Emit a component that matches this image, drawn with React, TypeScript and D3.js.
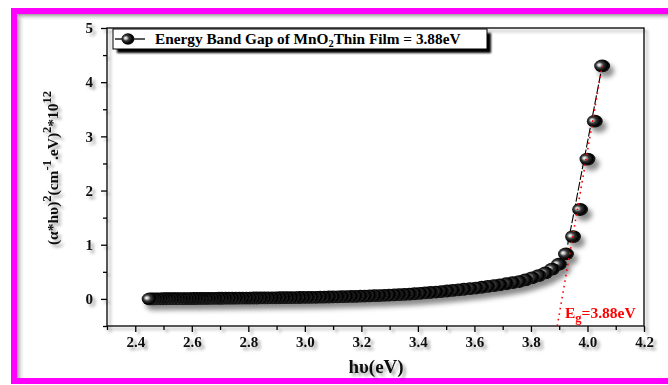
import React, { useEffect, useRef } from 'react';
import * as d3 from 'd3';

// photon energy hv (eV), one point every 2 nm
const photonEnergy = [
  2.451, 2.460, 2.470, 2.480, 2.490, 2.500, 2.510, 2.520, 2.531, 2.541,
  2.551, 2.562, 2.573, 2.583, 2.594, 2.605, 2.616, 2.627, 2.638, 2.650,
  2.661, 2.672, 2.684, 2.696, 2.707, 2.719, 2.731, 2.743, 2.756, 2.768,
  2.780, 2.793, 2.805, 2.818, 2.831, 2.844, 2.857, 2.870, 2.884, 2.897,
  2.911, 2.925, 2.938, 2.952, 2.967, 2.981, 2.995, 3.010, 3.024, 3.039,
  3.054, 3.069, 3.085, 3.100, 3.116, 3.131, 3.147, 3.163, 3.179, 3.196,
  3.212, 3.229, 3.246, 3.263, 3.280, 3.298, 3.316, 3.333, 3.351, 3.370,
  3.388, 3.407, 3.425, 3.444, 3.464, 3.483, 3.503, 3.523, 3.543, 3.563,
  3.584, 3.605, 3.626, 3.647, 3.669, 3.690, 3.713, 3.735, 3.758, 3.780,
  3.804, 3.827, 3.851, 3.875, 3.899, 3.924, 3.949, 3.974, 4.000, 4.026,
  4.052,
];

// (alpha*hv)^2 * 1e-12
const absorption = [
  0.000, 0.001, 0.001, 0.002, 0.002, 0.003, 0.003, 0.004, 0.004, 0.005,
  0.005, 0.006, 0.006, 0.007, 0.007, 0.008, 0.008, 0.009, 0.009, 0.010,
  0.010, 0.011, 0.011, 0.012, 0.012, 0.013, 0.013, 0.014, 0.014, 0.015,
  0.015, 0.016, 0.016, 0.017, 0.017, 0.018, 0.018, 0.019, 0.020, 0.020,
  0.021, 0.022, 0.023, 0.024, 0.025, 0.026, 0.027, 0.028, 0.029, 0.030,
  0.032, 0.033, 0.035, 0.037, 0.039, 0.041, 0.043, 0.045, 0.047, 0.050,
  0.053, 0.056, 0.059, 0.062, 0.066, 0.070, 0.074, 0.078, 0.082, 0.088,
  0.095, 0.102, 0.110, 0.118, 0.127, 0.136, 0.146, 0.156, 0.167, 0.178,
  0.190, 0.200, 0.215, 0.230, 0.245, 0.260, 0.280, 0.300, 0.320, 0.350,
  0.390, 0.430, 0.480, 0.550, 0.640, 0.830, 1.150, 1.650, 2.580, 3.280,
  4.300,
];

const xMajor = [2.4, 2.6, 2.8, 3.0, 3.2, 3.4, 3.6, 3.8, 4.0, 4.2];
const xMinor = [2.3, 2.5, 2.7, 2.9, 3.1, 3.3, 3.5, 3.7, 3.9, 4.1];
const yMajor = [0, 1, 2, 3, 4, 5];
const yMinor = [-0.5, 0.5, 1.5, 2.5, 3.5, 4.5];

// linear extrapolation of the steep part down to the axis
const tangentLine = [[3.893, -0.5], [4.052, 4.3]];
const tangentSolid = [[3.93, 1.0], [4.052, 4.3]];

const bandGap = '3.88';
const legendLabel = ['Energy Band Gap of MnO', '2', 'Thin Film = 3.88eV'];

const FONT = '"Liberation Serif", "Times New Roman", serif';

export default function App() {
  const ref = useRef<SVGSVGElement>(null);

  useEffect(() => {
    const svg = d3.select(ref.current);
    svg.selectAll('*').remove();

    const x = d3.scaleLinear().domain([2.3, 4.2]).range([107, 644]);
    const y = d3.scaleLinear().domain([-0.5, 5]).range([326, 28]);

    const defs = svg.append('defs');

    const ball = defs.append('radialGradient')
      .attr('id', 'ball')
      .attr('cx', 0.42).attr('cy', 0.45).attr('r', 0.62)
      .attr('fx', 0.3).attr('fy', 0.42);
    ball.append('stop').attr('offset', 0).attr('stop-color', '#ffffff');
    ball.append('stop').attr('offset', 0.14).attr('stop-color', '#d0d0d0');
    ball.append('stop').attr('offset', 0.38).attr('stop-color', '#3a3a3a');
    ball.append('stop').attr('offset', 0.72).attr('stop-color', '#000000');
    ball.append('stop').attr('offset', 0.92).attr('stop-color', '#1a1a1a');
    ball.append('stop').attr('offset', 1).attr('stop-color', '#555555');

    defs.append('filter').attr('id', 'soft')
      .attr('x', '-10%').attr('y', '-10%').attr('width', '130%').attr('height', '130%')
      .append('feDropShadow')
      .attr('dx', 3).attr('dy', 3).attr('stdDeviation', 1.8)
      .attr('flood-color', '#000').attr('flood-opacity', 0.35);

    defs.append('filter').attr('id', 'ballShadow')
      .attr('x', '-10%').attr('y', '-10%').attr('width', '130%').attr('height', '130%')
      .append('feDropShadow')
      .attr('dx', 4).attr('dy', 5).attr('stdDeviation', 2.5)
      .attr('flood-color', '#000').attr('flood-opacity', 0.45);

    defs.append('filter').attr('id', 'blur1')
      .append('feGaussianBlur').attr('stdDeviation', 1);

    const fadeL = defs.append('linearGradient').attr('id', 'fadeL')
      .attr('x1', 0).attr('x2', 1).attr('y1', 0).attr('y2', 0);
    fadeL.append('stop').attr('offset', 0).attr('stop-color', '#9a9a9a');
    fadeL.append('stop').attr('offset', 1).attr('stop-color', '#fff').attr('stop-opacity', 0);
    const fadeT = defs.append('linearGradient').attr('id', 'fadeT')
      .attr('x1', 0).attr('x2', 0).attr('y1', 0).attr('y2', 1);
    fadeT.append('stop').attr('offset', 0).attr('stop-color', '#9a9a9a');
    fadeT.append('stop').attr('offset', 1).attr('stop-color', '#fff').attr('stop-opacity', 0);

    // page background + magenta frame (right side runs off the picture)
    svg.append('rect').attr('width', 668).attr('height', 385).attr('fill', '#fff');
    svg.append('rect').attr('x', 17).attr('y', 14).attr('width', 8).attr('height', 366).attr('fill', 'url(#fadeL)');
    svg.append('rect').attr('x', 17).attr('y', 14).attr('width', 660).attr('height', 7).attr('fill', 'url(#fadeT)');
    svg.append('path')
      .attr('d', 'M 680 11 H 14 V 381 H 680')
      .attr('fill', 'none').attr('stroke', '#ff00ff').attr('stroke-width', 6);

    // axes
    const axes = svg.append('g').attr('filter', 'url(#soft)');

    axes.append('rect')
      .attr('x', x(2.3)).attr('y', y(5))
      .attr('width', x(4.2) - x(2.3)).attr('height', y(-0.5) - y(5))
      .attr('fill', 'none').attr('stroke', '#000').attr('stroke-width', 1.3);

    const styleAxis = (g: any) => {
      g.select('.domain').remove();
      g.selectAll('line').attr('stroke', '#000').attr('stroke-width', 1.3);
      g.selectAll('text')
        .attr('font-family', FONT).attr('font-weight', 'bold')
        .attr('font-size', 15).attr('fill', '#111');
    };

    axes.append('g')
      .attr('transform', `translate(0,${y(-0.5)})`)
      .call(d3.axisBottom(x).tickValues(xMajor).tickSize(6).tickPadding(4.5).tickFormat(d3.format('.1f')))
      .call(styleAxis);
    axes.append('g')
      .attr('transform', `translate(0,${y(-0.5)})`)
      .call(d3.axisBottom(x).tickValues(xMinor).tickSize(4).tickFormat(() => ''))
      .call(styleAxis);

    axes.append('g')
      .attr('transform', `translate(${x(2.3)},0)`)
      .call(d3.axisLeft(y).tickValues(yMajor).tickSize(6).tickPadding(8).tickFormat(d3.format('d')))
      .call(styleAxis);
    axes.append('g')
      .attr('transform', `translate(${x(2.3)},0)`)
      .call(d3.axisLeft(y).tickValues(yMinor).tickSize(4).tickFormat(() => ''))
      .call(styleAxis);

    // axis titles
    axes.append('text')
      .attr('x', 376).attr('y', 373)
      .attr('text-anchor', 'middle')
      .attr('font-family', FONT).attr('font-weight', 'bold').attr('font-size', 19)
      .attr('fill', '#111')
      .text('h\u03c5(eV)');

    const yt = axes.append('text')
      .attr('transform', 'translate(58,168) rotate(-90)')
      .attr('text-anchor', 'middle')
      .attr('font-family', FONT).attr('font-weight', 'bold').attr('font-size', 15.5)
      .attr('fill', '#111');
    const parts: [string, boolean][] = [
      ['(\u03b1*h\u03c5)', false], ['2', true], ['(cm', false], ['-1', true],
      ['.eV)', false], ['2', true], ['*10', false], ['12', true],
    ];
    let raised = false;
    parts.forEach(([t, sup]) => {
      const sp = yt.append('tspan').text(t);
      if (sup && !raised) { sp.attr('dy', -7).attr('font-size', 12.5); raised = true; }
      else if (sup) { sp.attr('font-size', 12.5); }
      else if (raised) { sp.attr('dy', 7); raised = false; }
    });

    // fitted straight line (under the markers)
    svg.append('line')
      .attr('x1', x(tangentSolid[0][0])).attr('y1', y(tangentSolid[0][1]))
      .attr('x2', x(tangentSolid[1][0])).attr('y2', y(tangentSolid[1][1]))
      .attr('stroke', '#000').attr('stroke-width', 1.1)
      .attr('stroke-dasharray', '9,2');

    // markers, drawn from high to low energy so the left ones sit on top
    const idx = d3.range(photonEnergy.length).reverse();
    svg.append('g').attr('filter', 'url(#ballShadow)')
      .selectAll('ellipse')
      .data(idx)
      .enter()
      .append('ellipse')
      .attr('cx', i => x(photonEnergy[i]))
      .attr('cy', i => y(absorption[i]))
      .attr('rx', 8)
      .attr('ry', 6.4)
      .attr('fill', 'url(#ball)');

    // red dotted extrapolation
    svg.append('line')
      .attr('x1', x(tangentLine[0][0])).attr('y1', y(tangentLine[0][1]))
      .attr('x2', x(tangentLine[1][0])).attr('y2', y(tangentLine[1][1]))
      .attr('stroke', '#ff0000').attr('stroke-width', 1.6)
      .attr('stroke-dasharray', '1.6,4');

    const eg = svg.append('text')
      .attr('x', 565).attr('y', 318)
      .attr('font-family', FONT).attr('font-weight', 'bold').attr('font-size', 15.5)
      .attr('fill', '#ff0000');
    eg.append('tspan').text('E');
    eg.append('tspan').attr('dy', 4).attr('font-size', 12.5).text('g');
    eg.append('tspan').attr('dy', -4).text('=' + bandGap + 'eV');

    // legend
    const lg = svg.append('g');
    lg.append('rect')
      .attr('x', 117).attr('y', 33).attr('width', 374).attr('height', 20)
      .attr('fill', '#000').attr('filter', 'url(#blur1)');
    lg.append('rect')
      .attr('x', 113).attr('y', 29).attr('width', 374).attr('height', 20)
      .attr('fill', '#fff').attr('stroke', '#000').attr('stroke-width', 1);
    lg.append('line')
      .attr('x1', 115).attr('x2', 145).attr('y1', 39).attr('y2', 39)
      .attr('stroke', '#000').attr('stroke-width', 1.3);
    lg.append('ellipse')
      .attr('cx', 128).attr('cy', 39).attr('rx', 6.5).attr('ry', 5.8)
      .attr('fill', 'url(#ball)');
    const lt = lg.append('text')
      .attr('x', 155).attr('y', 44)
      .attr('font-family', FONT).attr('font-weight', 'bold').attr('font-size', 15.3)
      .attr('fill', '#000');
    lt.append('tspan').text(legendLabel[0]);
    lt.append('tspan').attr('dy', 3).attr('font-size', 10.5).text(legendLabel[1]);
    lt.append('tspan').attr('dy', -3).text(legendLabel[2]);
  }, []);

  return (
    <svg
      ref={ref}
      width={668}
      height={385}
      style={{ position: 'absolute', left: 0, top: 0 }}
    />
  );
}
